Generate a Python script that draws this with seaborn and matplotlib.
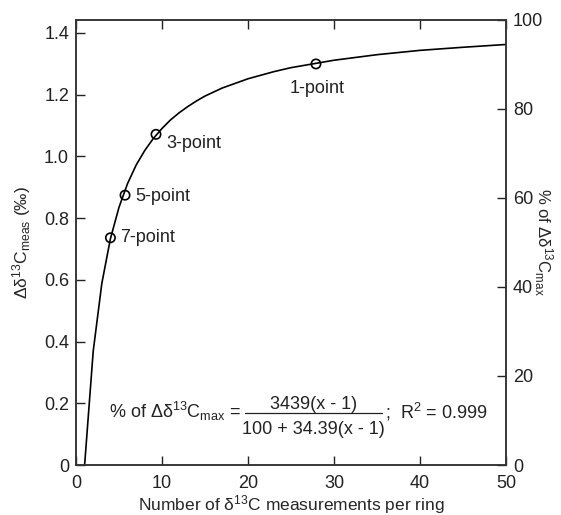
import numpy as np
import pandas as pd
import matplotlib
matplotlib.use('Agg')
import matplotlib.pyplot as plt
import seaborn as sns

# curve values (left axis units)
curve_x = [1, 2, 3, 4, 5, 6, 7, 8, 9, 10, 11, 12, 13, 14, 15, 17, 20, 23, 25, 30, 35, 40, 45, 50]
curve_y = [0.0, 0.369, 0.588, 0.733, 0.835, 0.912, 0.972, 1.019, 1.058, 1.090, 1.118,
           1.141, 1.161, 1.179, 1.195, 1.221, 1.251, 1.274, 1.287, 1.311, 1.329, 1.343,
           1.353, 1.362]

# marked sampling schemes
pt_names = ['1-point', '3-point', '5-point', '7-point']
pt_x = [27.9, 9.3, 5.7, 4.0]
pt_y = [1.299, 1.071, 0.874, 0.736]

left_ticks = [0, 0.2, 0.4, 0.6, 0.8, 1.0, 1.2, 1.4]
left_labels = ['0', '0.2', '0.4', '0.6', '0.8', '1.0', '1.2', '1.4']
right_ticks = [0, 20, 40, 60, 80, 100]
x_ticks = [0, 10, 20, 30, 40, 50]

sns.set_style('ticks')
plt.rcParams['font.family'] = ['Liberation Sans', 'DejaVu Sans']
plt.rcParams['mathtext.fontset'] = 'custom'
plt.rcParams['mathtext.rm'] = 'Liberation Sans'
plt.rcParams['mathtext.it'] = 'Liberation Sans'
plt.rcParams['text.color'] = '#222222'

curve = pd.DataFrame({'x': curve_x, 'y': curve_y})
pts = pd.DataFrame({'x': pt_x, 'y': pt_y, 'name': pt_names})

fig = plt.figure(figsize=(5.61, 5.15), dpi=100)
ax = fig.add_axes([0.1355, 0.097, 0.7665, 0.865])

sns.lineplot(data=curve, x='x', y='y', ax=ax, color='black', linewidth=1.2)
sns.scatterplot(data=pts, x='x', y='y', ax=ax, marker='o', s=45,
                facecolor='none', edgecolor='black', linewidth=1.2, zorder=3)

fs = 13

# point labels
offsets = {'1-point': (-3.1, -0.08), '3-point': (1.15, -0.03),
           '5-point': (1.25, -0.003), '7-point': (1.1, 0.0)}
for n, x, y in zip(pt_names, pt_x, pt_y):
    dx, dy = offsets[n]
    ax.text(x + dx, y + dy, n, fontsize=fs, va='center', ha='left')

ax.set_xlim(0, 50)
ax.set_ylim(0, 1.4427)
ax.set_xticks(x_ticks)
ax.set_yticks(left_ticks)
ax.set_yticklabels(left_labels)
ax.tick_params(direction='in', length=6.5, width=1, labelsize=fs, colors='#222222',
               top=True, pad=5)
ax.tick_params(axis='x', labeltop=False, pad=7)
ax.set_xlabel('Number of δ$^{13}$C measurements per ring', fontsize=12.5, labelpad=1)
ax.set_ylabel('Δδ$^{13}$C$_{\\mathrm{meas}}$ (‰)', fontsize=12.5, labelpad=8)

ax2 = ax.twinx()
ax2.set_ylim(0, 100)
ax2.set_yticks(right_ticks)
ax2.tick_params(direction='in', length=6.5, width=1, labelsize=fs, colors='#222222', pad=5)
ax2.set_ylabel('% of Δδ$^{13}$C$_{\\mathrm{max}}$', fontsize=12, rotation=270, labelpad=8)

for a in (ax, ax2):
    for s in a.spines.values():
        s.set_linewidth(1.1)
        s.set_color('#333333')

# equation
ax.text(3.8, 0.172, '% of Δδ$^{13}$C$_{\\mathrm{max}}$ =', fontsize=fs, va='center', ha='left')
ax.text(27.6, 0.197, '3439(x - 1)', fontsize=fs, va='center', ha='center')
ax.text(27.6, 0.115, '100 + 34.39(x - 1)', fontsize=fs, va='center', ha='center')
ax.plot([19.6, 35.6], [0.167, 0.167], color='#222222', linewidth=0.9)
ax.text(35.9, 0.172, ';  R$^2$ = 0.999', fontsize=fs, va='center', ha='left')

fig.savefig('out.png', dpi=100)
